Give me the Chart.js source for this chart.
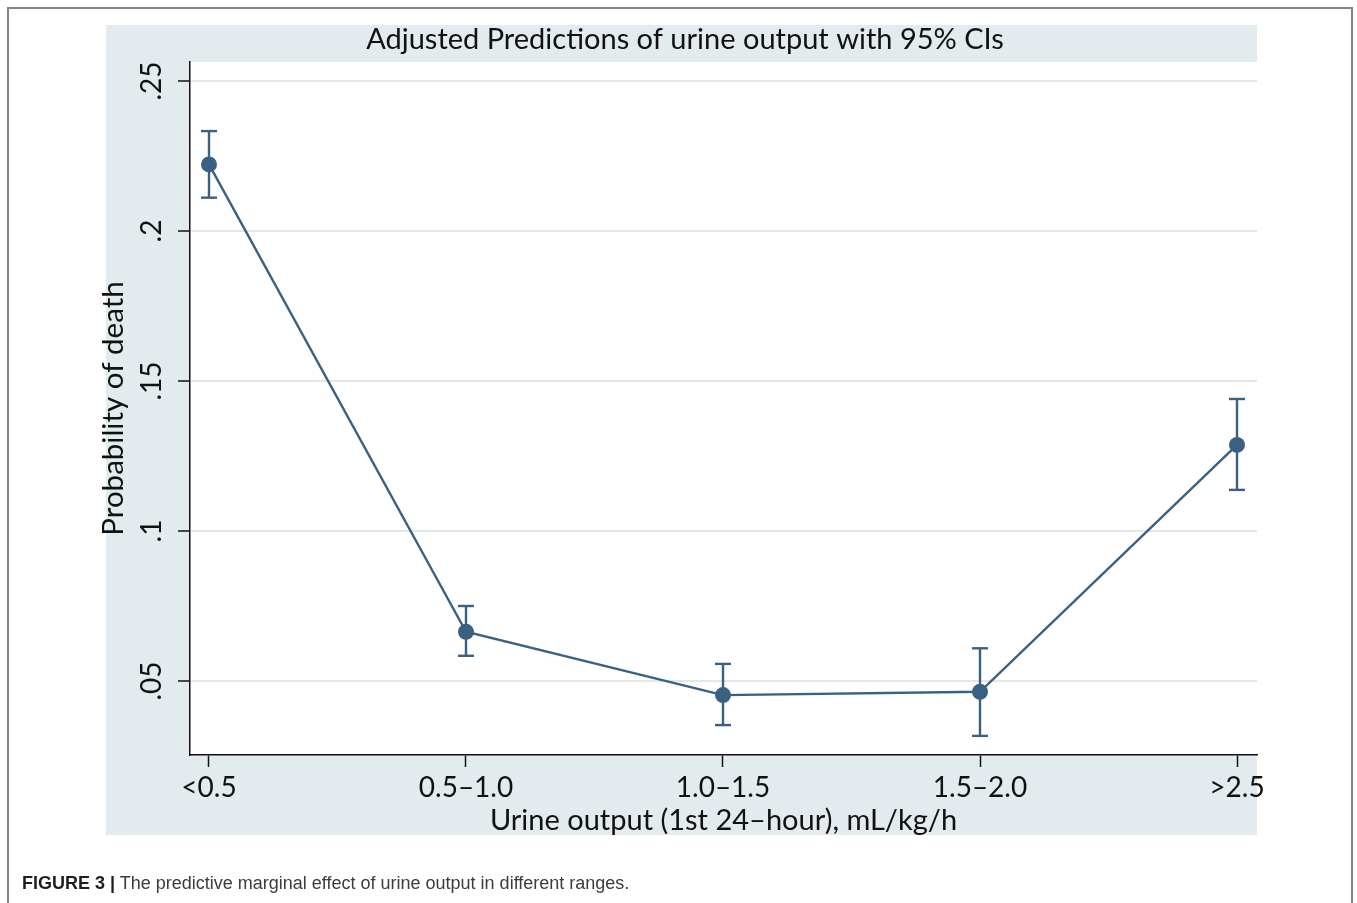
<!DOCTYPE html>
<html>
<head>
<meta charset="utf-8">
<title>Adjusted Predictions of urine output with 95% CIs</title>
<script src="https://cdn.jsdelivr.net/npm/chart.js@4.4.1/dist/chart.umd.min.js"></script>
<style>
  html, body { margin: 0; padding: 0; background: #ffffff; }
  body { width: 1357px; height: 903px; position: relative; overflow: hidden; }
  #frame {
    position: absolute; left: 7px; top: 7px; width: 1346px; height: 960px;
    border: 2px solid #858585; box-sizing: border-box;
  }
  #wrap { position: absolute; left: 0; top: 0; width: 1357px; height: 903px; }
  #caption {
    position: absolute; left: 22px; top: 873px;
    font-family: "Liberation Sans", Arial, sans-serif; font-size: 18px;
    color: #3c3c3c; white-space: nowrap;
  }
  #caption b { color: #1e1e1e; }
</style>
</head>
<body>
<div id="frame"></div>
<div id="wrap"><canvas id="chart" width="1357" height="903"></canvas></div>
<div id="caption"><b>FIGURE 3 |</b> The predictive marginal effect of urine output in different ranges.</div>
<script>
// Urine output ranges (mL/kg/h) and predicted probability of death with 95% CIs
const categories = ['<0.5', '0.5\u20131.0', '1.0\u20131.5', '1.5\u20132.0', '>2.5'];
const probability = [0.2222, 0.0664, 0.0453, 0.0464, 0.1287];
const ciLower = [0.2111, 0.0584, 0.0353, 0.0317, 0.1137];
const ciUpper = [0.2333, 0.0750, 0.0557, 0.0609, 0.1440];
const yTickValues = [0.05, 0.10, 0.15, 0.20, 0.25];
const yTickLabels = ['.05', '.1', '.15', '.2', '.25'];

const NAVY = '#3b6182';
const PANEL = '#e3ebee';
const FONT = 'Lato, "Open Sans", sans-serif';
const panelBox = { left: 106, top: 25, right: 1257, bottom: 835 };

// light panel behind the whole graph, white plot region on top of it
const panelPlugin = {
  id: 'panel',
  beforeDraw(chart) {
    const ctx = chart.ctx;
    const a = chart.chartArea;
    ctx.save();
    ctx.fillStyle = PANEL;
    ctx.fillRect(panelBox.left, panelBox.top, panelBox.right - panelBox.left, panelBox.bottom - panelBox.top);
    ctx.fillStyle = '#ffffff';
    ctx.fillRect(a.left, a.top, a.right - a.left, a.bottom - a.top);
    ctx.restore();
  }
};

// one two-point dataset per category: vertical CI line with flat caps
const ciSets = categories.map((c, i) => ({
  label: 'CI ' + c,
  data: [{ x: i, y: ciLower[i] }, { x: i, y: ciUpper[i] }],
  borderColor: NAVY,
  borderWidth: 2.4,
  pointStyle: 'line',
  pointRadius: 8,
  pointBorderWidth: 2.4,
  pointBorderColor: NAVY,
  order: 2
}));

const mainSet = {
  label: 'Probability of death',
  data: probability.map((v, i) => ({ x: i, y: v })),
  borderColor: NAVY,
  borderWidth: 2.4,
  pointRadius: 8,
  pointBackgroundColor: NAVY,
  pointBorderColor: NAVY,
  pointBorderWidth: 0,
  order: 1
};

new Chart(document.getElementById('chart'), {
  type: 'line',
  data: { datasets: [mainSet, ...ciSets] },
  plugins: [panelPlugin],
  options: {
    responsive: false,
    animation: false,
    events: [],
    layout: { padding: { left: 113, top: 25, right: 100, bottom: 68 } },
    plugins: {
      legend: { display: false },
      tooltip: { enabled: false },
      title: {
        display: true,
        text: 'Adjusted Predictions of urine output with 95% CIs',
        color: '#111111',
        font: { family: FONT, size: 29, weight: 'normal', lineHeight: 1 },
        padding: { top: 0, bottom: 8 }
      }
    },
    scales: {
      x: {
        type: 'linear',
        min: -0.0739,
        max: 4.0778,
        afterBuildTicks: (s) => { s.ticks = categories.map((_, i) => ({ value: i })); },
        afterFit: (s) => { s.height = 80; },
        ticks: {
          autoSkip: false, maxRotation: 0, minRotation: 0,
          padding: 4, color: '#111111',
          font: { family: FONT, size: 28 },
          callback: (v) => categories[v]
        },
        grid: { drawOnChartArea: false, drawTicks: true, tickLength: 12, tickColor: '#111111', tickWidth: 1.5 },
        border: { display: true, color: '#111111', width: 1.5 },
        title: {
          display: true,
          text: 'Urine output (1st 24\u2013hour), mL/kg/h',
          color: '#111111',
          font: { family: FONT, size: 29, lineHeight: 1 },
          padding: { top: 0, bottom: 0 }
        }
      },
      y: {
        type: 'linear',
        min: 0.02533,
        max: 0.25633,
        afterBuildTicks: (s) => { s.ticks = yTickValues.map((v) => ({ value: v })); },
        afterFit: (s) => { s.width = 77; },
        ticks: {
          minRotation: 90, maxRotation: 90,
          crossAlign: 'center',
          padding: 6, color: '#111111',
          font: { family: FONT, size: 28 },
          callback: (v, i) => yTickLabels[i]
        },
        grid: { color: '#e4e7e8', lineWidth: 2, drawTicks: true, tickLength: 12, tickColor: '#111111', tickWidth: 1.5 },
        border: { display: true, color: '#111111', width: 1.5 },
        title: {
          display: true,
          text: 'Probability of death',
          color: '#111111',
          font: { family: FONT, size: 29.5, lineHeight: 1 },
          padding: { top: -14, bottom: 0 }
        }
      }
    }
  }
});
</script>
</body>
</html>
